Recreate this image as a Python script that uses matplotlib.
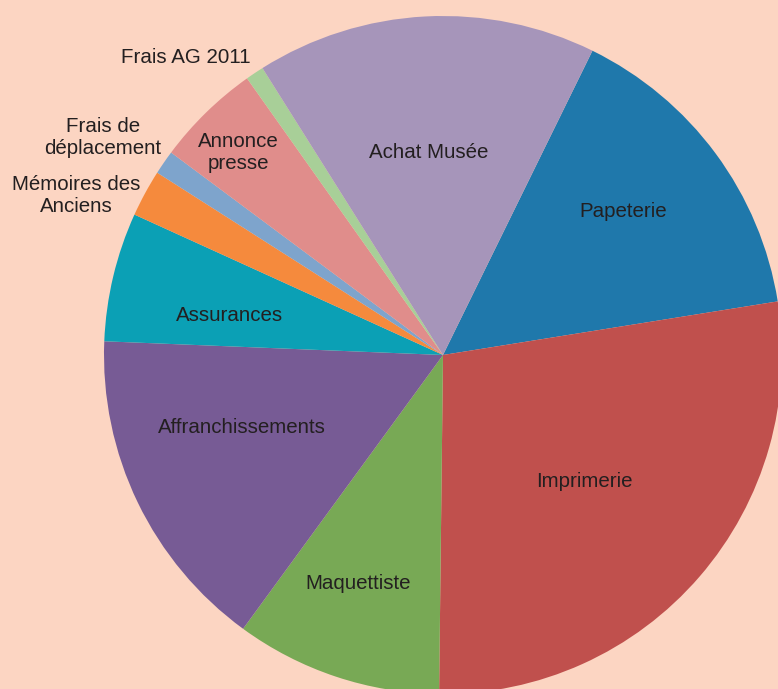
import numpy as np
import matplotlib.pyplot as plt

plt.rcParams['font.family'] = ['Liberation Sans', 'DejaVu Sans']

# parts of the spending (percent), clockwise from the top
labels = ["Papeterie", "Imprimerie", "Maquettiste", "Affranchissements",
          "Assurances", "Mémoires des\nAnciens", "Frais de\ndéplacement",
          "Annonce\npresse", "Frais AG 2011", "Achat Musée"]
values = [15.2, 27.7, 9.85, 15.6, 6.15, 2.24, 1.15, 5.0, 0.87, 16.2]
colors = ["#1F78AB", "#C0504D", "#78A955", "#775B95", "#0BA0B5",
          "#F58A3D", "#7EA4CC", "#E08D8B", "#A8CF98", "#A695BA"]

# label placement: distance from centre (radius units) and angle nudge (deg)
lab_r = [0.68, 0.56, 0.72, 0.63, 0.64, 1.18, 1.19, 0.85, 1.16, 0.60]
lab_da = [2, -1, -2, -6, 3, 5, 2, 1, 7, 1]

bg = "#FCD5C2"
fig = plt.figure(figsize=(7.78, 6.89), dpi=100, facecolor=bg)
ax = fig.add_axes([0, 0, 1, 1])
ax.set_facecolor(bg)

wedges, _ = ax.pie(values, colors=colors, startangle=63.84, counterclock=False,
                   radius=1, wedgeprops=dict(linewidth=0))

for w, lab, r, da in zip(wedges, labels, lab_r, lab_da):
    mid = np.deg2rad((w.theta1 + w.theta2) / 2 + da)
    ax.text(r * np.cos(mid), r * np.sin(mid), lab, ha='center', va='center',
            fontsize=14.8, color='#231F20', linespacing=1.2)

# the picture only shows part of the pie
s = 339
ax.set_xlim(-443 / s, (778 - 443) / s)
ax.set_ylim(-(689 - 355) / s, 355 / s)
ax.set_aspect('auto')
ax.axis('off')

plt.savefig("out.png", dpi=100, facecolor=bg)
